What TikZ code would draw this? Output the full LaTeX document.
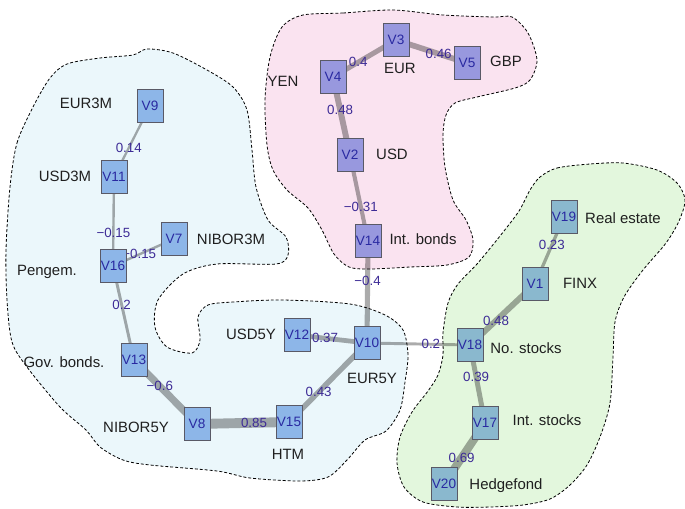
\documentclass[tikz,border=0pt]{standalone}
\usepackage{fontspec}
\setmainfont{Liberation Sans}
\usepackage{xcolor}
\definecolor{pinkbg}{rgb}{0.98,0.89,0.94}
\definecolor{bluebg}{rgb}{0.92,0.97,0.985}
\definecolor{greenbg}{rgb}{0.89,0.968,0.865}
\definecolor{pinknode}{rgb}{0.596,0.596,0.871}
\definecolor{bluenode}{rgb}{0.553,0.714,0.91}
\definecolor{greennode}{rgb}{0.541,0.722,0.808}
\definecolor{nodeline}{rgb}{0.35,0.35,0.40}
\definecolor{nodetext}{rgb}{0.16,0.16,0.63}
\definecolor{edgetext}{rgb}{0.24,0.17,0.59}

\pgfdeclarelayer{clusters}
\pgfdeclarelayer{edges}
\pgfsetlayers{clusters,edges,main}

\begin{document}
\begin{tikzpicture}[x=0.75pt,y=0.75pt,yscale=-1,xscale=1,
  vbox/.style={draw=nodeline, line width=0.75pt, minimum width=19.5pt, minimum height=24.75pt, inner sep=0pt, text=nodetext, font=\fontsize{10.2}{12}\selectfont},
  vpink/.style={vbox, fill=pinknode},
  vblue/.style={vbox, fill=bluenode},
  vgreen/.style={vbox, fill=greennode},
  vtitle/.style={inner sep=0pt, text=black!88, text height=8pt, text depth=2pt, font=\fontsize{11.2}{13}\selectfont},
  wlabel/.style={inner sep=0pt, text=edgetext, font=\fontsize{10}{12}\selectfont},
  link/.style={draw=black, draw opacity=0.33},
  cluster/.style={draw=black, line width=0.6pt, dash pattern=on 2.2pt off 1.5pt}]
\useasboundingbox (0,0) rectangle (685,508);

\begin{pgfonlayer}{clusters}
%Shape: Cluster pink
\draw [cluster, fill=pinkbg] plot [smooth cycle] coordinates {(303,15) (343,13) (393,10) (443,15) (493,17) (512,17) (528,33) (537,60) (530,80) (515,88) (477,97) (455,103) (446,115) (443,135) (445,167) (453,200) (466,220) (473,240) (469,257) (447,265) (410,267) (370,269) (349,267) (334,254) (322,230) (308,208) (287,190) (273,170) (267,145) (265,100) (270,57) (282,27)};
%Shape: Cluster blue
\draw [cluster, fill=bluebg] plot [smooth cycle] coordinates {(10,187) (17,143) (33,107) (50,78) (67,64) (100,58) (133,55) (147,49) (173,53) (207,70) (233,87) (247,110) (252,150) (256,187) (268,220) (286,237) (288,255) (276,264) (217,264) (183,274) (158,300) (155,327) (167,347) (192,353) (200,340) (198,317) (208,305) (233,302) (283,300) (350,304) (385,315) (403,330) (408,355) (405,382) (400,410) (386,431) (365,440) (347,460) (328,477) (300,481) (250,478) (217,471) (150,465) (123,460) (100,447) (86,430) (60,407) (27,367) (12,342) (7,300) (6,250)};
%Shape: Cluster green
\draw [cluster, fill=greenbg] plot [smooth cycle] coordinates {(540,177) (557,168) (590,164) (623,163) (657,170) (677,183) (685,200) (679,221) (666,243) (643,270) (624,297) (615,322) (613,357) (610,403) (600,437) (587,465) (570,485) (550,499) (523,505) (490,507) (457,507) (423,502) (404,487) (397,463) (400,437) (412,412) (428,391) (438,375) (443,355) (443,333) (448,303) (458,284) (477,264) (500,236) (519,211) (530,190)};
\end{pgfonlayer}

% Nodes
\draw (396,40) node [vpink] (v3) {V3};
\draw (333,77) node [vpink] (v4) {V4};
\draw (467,63) node [vpink] (v5) {V5};
\draw (350,155) node [vpink] (v2) {V2};
\draw (368,241) node [vpink] (v14) {V14};
\draw (150,106) node [vblue] (v9) {V9};
\draw (114,177) node [vblue] (v11) {V11};
\draw (174,239) node [vblue] (v7) {V7};
\draw (113,266) node [vblue] (v16) {V16};
\draw (134,360) node [vblue] (v13) {V13};
\draw (197,424) node [vblue] (v8) {V8};
\draw (289,422) node [vblue] (v15) {V15};
\draw (297,335) node [vblue] (v12) {V12};
\draw (367,343) node [vblue] (v10) {V10};
\draw (564,217) node [vgreen] (v19) {V19};
\draw (535,284) node [vgreen] (v1) {V1};
\draw (470,345) node [vgreen] (v18) {V18};
\draw (485,423) node [vgreen] (v17) {V17};
\draw (444,484) node [vgreen] (v20) {V20};

% Text Node
\draw (400,69) node [vtitle] (t3) {EUR};
\draw (283,82) node [vtitle] (t4) {YEN};
\draw (506,62) node [vtitle] (t5) {GBP};
\draw (392,155) node [vtitle] (t2) {USD};
\draw (423,240) node [vtitle] (t14) {Int. bonds};
\draw (86,104) node [vtitle] (t9) {EUR3M};
\draw (65,177) node [vtitle] (t11) {USD3M};
\draw (231,240) node [vtitle] (t7) {NIBOR3M};
\draw (47,271) node [vtitle] (t16) {Pengem.};
\draw (64,363) node [vtitle] (t13) {Gov. bonds.};
\draw (136,428) node [vtitle] (t8) {NIBOR5Y};
\draw (288,455) node [vtitle] (t15) {HTM};
\draw (251,335) node [vtitle] (t12) {USD5Y};
\draw (372,379) node [vtitle] (t10) {EUR5Y};
\draw (623,219) node [vtitle] (t19) {Real estate};
\draw (580,284) node [vtitle] (t1) {FINX};
\draw (526,349) node [vtitle] (t18) {No. stocks};
\draw (547,421) node [vtitle] (t17) {Int. stocks};
\draw (506,485) node [vtitle] (t20) {Hedgefond};

\begin{pgfonlayer}{edges}
% Edges, width after the weight
\draw [link, line width=3.8pt] (v4.center) -- node [wlabel, pos=0.4] {0.4} (v3.center);
\draw [link, line width=4.28pt] (v3.center) -- node [wlabel, pos=0.6] {0.46} (v5.center);
\draw [link, line width=4.44pt] (v4.center) -- node [wlabel, pos=0.42] {0.48} (v2.center);
\draw [link, line width=3.08pt] (v2.center) -- node [wlabel, pos=0.6] {−0.31} (v14.center);
\draw [link, line width=3.8pt] (v14.center) -- node [wlabel, pos=0.39] {−0.4} (v10.center);
\draw [link, line width=1.72pt] (v9.center) -- node [wlabel, pos=0.59] {0.14} (v11.center);
\draw [link, line width=1.8pt] (v11.center) -- node [wlabel, pos=0.63] {−0.15} (v16.center);
\draw [link, line width=1.8pt] (v16.center) -- node [wlabel, pos=0.43] {−0.15} (v7.center);
\draw [link, line width=2.2pt] (v16.center) -- node [wlabel, pos=0.41] {0.2} (v13.center);
\draw [link, line width=5.4pt] (v13.center) -- node [wlabel, pos=0.41] {−0.6} (v8.center);
\draw [link, line width=7.4pt] (v8.center) -- node [wlabel, pos=0.62] {0.85} (v15.center);
\draw [link, line width=4.04pt] (v15.center) -- node [wlabel, pos=0.38] {0.43} (v10.center);
\draw [link, line width=3.56pt] (v12.center) -- node [wlabel, pos=0.4] {0.37} (v10.center);
\draw [link, line width=2.2pt] (v10.center) -- node [wlabel, pos=0.62] {0.2} (v18.center);
\draw [link, line width=2.44pt] (v19.center) -- node [wlabel, pos=0.42] {0.23} (v1.center);
\draw [link, line width=4.44pt] (v1.center) -- node [wlabel, pos=0.6] {0.48} (v18.center);
\draw [link, line width=3.72pt] (v18.center) -- node [wlabel, pos=0.41] {0.39} (v17.center);
\draw [link, line width=6.12pt] (v17.center) -- node [wlabel, pos=0.57] {0.69} (v20.center);
\end{pgfonlayer}

\end{tikzpicture}
\end{document}
